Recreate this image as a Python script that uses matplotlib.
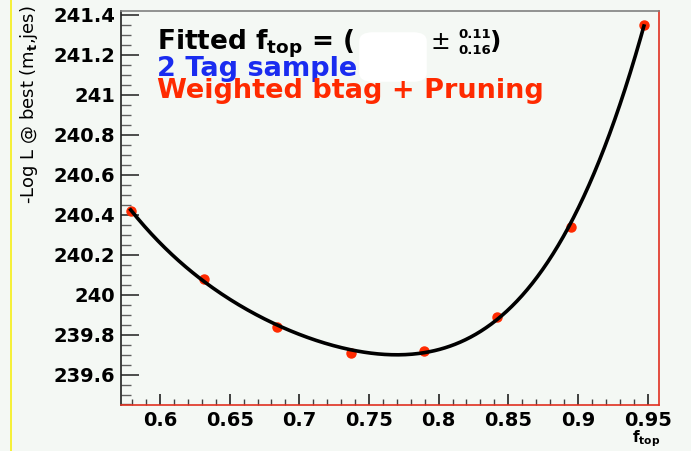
import numpy as np
import matplotlib
matplotlib.use('Agg')
import matplotlib.pyplot as plt
import matplotlib.patches as mpatches
from matplotlib.ticker import MultipleLocator, FuncFormatter

# valores
f_top = [11/19., 12/19., 13/19., 14/19., 15/19., 16/19., 17/19., 18/19.]
log_l = [240.42, 240.08, 239.84, 239.71, 239.72, 239.89, 240.34, 241.35]

plt.rcParams['font.family'] = ['DejaVu Sans']
plt.rcParams['font.weight'] = 'bold'
plt.rcParams['mathtext.fontset'] = 'custom'
plt.rcParams['mathtext.rm'] = 'DejaVu Sans:bold'
plt.rcParams['mathtext.it'] = 'DejaVu Sans:bold'
plt.rcParams['mathtext.bf'] = 'DejaVu Sans:bold'

W, H = 691, 451
bg = '#f4f8f4'
fig = plt.figure(figsize=(W / 100., H / 100.), dpi=100, facecolor=bg)
ax = fig.add_axes([120.7 / W, 1 - 404.5 / H, (659 - 120.7) / W, (404.5 - 11) / H])
ax.set_facecolor(bg)

# linea amarilla del borde
fig.add_artist(mpatches.Rectangle((9.5 / W, 0), 2.5 / W, 1, transform=fig.transFigure,
                                  color='#f5f03a', lw=0))

# ajuste (polinomio) sobre los puntos
coef = np.polyfit(f_top, log_l, 4)
xs = np.linspace(f_top[0], f_top[-1], 300)
ax.plot(f_top, log_l, 'o', color='#ff2a00', ms=6.5, zorder=2)
ax.plot(xs, np.polyval(coef, xs), '-', color='black', lw=2.6, zorder=3)

ax.set_xlim(0.5718, 0.9582)
ax.set_ylim(239.45, 241.42)

ax.xaxis.set_major_locator(MultipleLocator(0.05))
ax.xaxis.set_minor_locator(MultipleLocator(0.01))
ax.yaxis.set_major_locator(MultipleLocator(0.2))
ax.yaxis.set_minor_locator(MultipleLocator(0.05))
fmt = FuncFormatter(lambda v, p: '%g' % round(v, 3))
ax.xaxis.set_major_formatter(fmt)
ax.yaxis.set_major_formatter(fmt)

ax.tick_params(axis='y', which='major', direction='in', length=13, width=1.2,
               color='#303030', labelsize=14, pad=4)
ax.tick_params(axis='y', which='minor', direction='in', length=7, width=1.0, color='#606060')
ax.tick_params(axis='x', which='major', direction='in', length=8, width=1.2,
               color='#202020', labelsize=14, pad=5)
ax.tick_params(axis='x', which='minor', direction='in', length=4, width=1.0, color='#404040')
ax.tick_params(top=False, right=False)

ax.spines['left'].set_color('#202020')
ax.spines['top'].set_color('#808080')
ax.spines['right'].set_color('#e03020')
ax.spines['bottom'].set_color('#e03020')
for s in ax.spines.values():
    s.set_linewidth(1.2)

ax.set_ylabel('-Log L @ best (m$_{t}$,jes)', fontsize=13, loc='top')
ax.yaxis.set_label_coords(-0.15, 1.015)

def px(x, y):
    return x / W, 1 - y / H

fig.text(*px(646, 442), 'f$_{\\mathrm{top}}$', fontsize=11, color='black',
         ha='center', va='baseline')

# textos
fig.text(*px(157, 49), 'Fitted f$_{\\mathrm{top}}$ = (', fontsize=19, color='black', va='baseline')
fig.text(*px(157, 76), '2 Tag sample', fontsize=19.5, color='#1a2cf0', va='baseline')
fig.text(*px(157, 98), 'Weighted btag + Pruning', fontsize=19.5, color='#ff2a00', va='baseline')

# mancha blanca (valor tapado)
fig.add_artist(mpatches.FancyBboxPatch(px(362, 80), 62 / W, 46 / H,
                                       boxstyle='round,pad=0.004,rounding_size=0.02',
                                       transform=fig.transFigure, color='white', lw=0))

fig.text(*px(440, 42), '\u00b1', fontsize=17, color='black', ha='center', va='center',
         weight='normal')
fig.text(*px(458, 34), '0.11', fontsize=9.5, color='black', va='center')
fig.text(*px(458, 50), '0.16', fontsize=9.5, color='black', va='center')
fig.text(*px(490, 42), ')', fontsize=18, color='black', va='center')

plt.savefig('out.png', dpi=100, facecolor=bg)
plt.close()
